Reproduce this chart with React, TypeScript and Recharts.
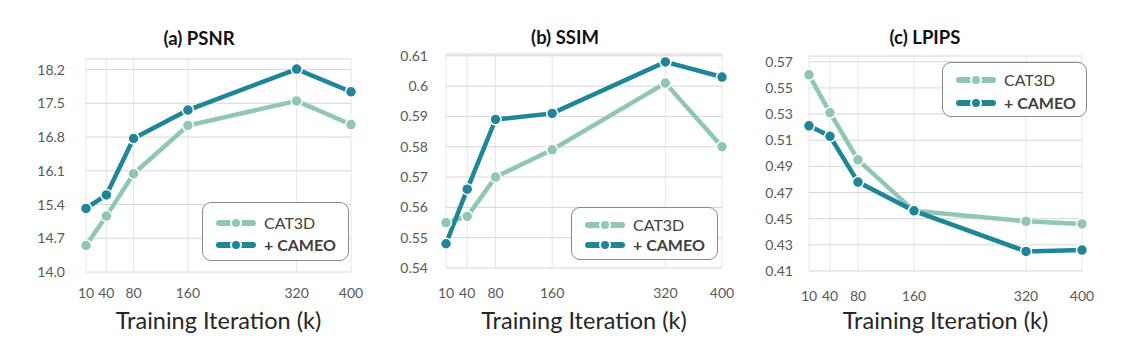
import React from "react";
import { LineChart, Line, XAxis, YAxis, CartesianGrid } from "recharts";

// ---- data ----
const iterations = [10, 40, 80, 160, 320, 400];
const psnrCat3d = [14.55, 15.16, 16.04, 17.04, 17.55, 17.06];
const psnrCameo = [15.32, 15.6, 16.77, 17.36, 18.21, 17.74];
const ssimCat3d = [0.555, 0.557, 0.57, 0.579, 0.601, 0.58];
const ssimCameo = [0.548, 0.566, 0.589, 0.591, 0.608, 0.603];
const lpipsCat3d = [0.56, 0.531, 0.495, 0.456, 0.448, 0.446];
const lpipsCameo = [0.521, 0.513, 0.478, 0.456, 0.425, 0.426];

const psnrTicks = [14.0, 14.7, 15.4, 16.1, 16.8, 17.5, 18.2];
const ssimTicks = [0.54, 0.55, 0.56, 0.57, 0.58, 0.59, 0.6, 0.61];
const lpipsTicks = [0.41, 0.43, 0.45, 0.47, 0.49, 0.51, 0.53, 0.55, 0.57];
const xTicks = [10, 40, 80, 160, 320, 400];

const seriesNames = ["CAT3D", "+ CAMEO"];
const titles = ["(a) PSNR", "(b) SSIM", "(c) LPIPS"];
const xTitle = "Training Iteration (k)";

const LIGHT = "#8fc7b4";
const DARK = "#1f8599";
const FONT = "Lato, 'Open Sans', sans-serif";

function buildRows(a: number[], b: number[]) {
  return iterations.map((it, i) => ({ it, cat3d: a[i], cameo: b[i] }));
}

type PanelProps = {
  title: string;
  rows: { it: number; cat3d: number; cameo: number }[];
  yTicks: number[];
  yDomain: [number, number];
  fmt: (v: number) => string;
  left: number;
  width: number;
  yAxisWidth: number;
  marginRight: number;
  plotTop: number;
  plotBottom: number;
  yTickMargin: number;
  xTickMargin: number;
  titleCx: number;
  titleCy: number;
  legend: { left: number; top: number; width: number; height: number; r1: number; r2: number };
};

const H = 354;

function LegendIcon({ color }: { color: string }) {
  return (
    <svg width={42} height={14} style={{ display: "block" }}>
      <line x1={4} y1={7} x2={38} y2={7} stroke={color} strokeWidth={6} strokeLinecap="round" />
      <circle cx={21} cy={7} r={5} fill={color} stroke="#fff" strokeWidth={2} />
    </svg>
  );
}

function Panel(p: PanelProps) {
  const xAxisHeight = H - 25 - p.plotBottom;
  const lg = p.legend;
  return (
    <>
      <div
        style={{
          position: "absolute",
          left: p.titleCx - 100,
          top: p.titleCy - 12,
          width: 200,
          height: 24,
          lineHeight: "24px",
          textAlign: "center",
          fontFamily: FONT,
          fontWeight: 700,
          fontSize: 18.5,
          color: "#111",
        }}
      >
        {p.title}
      </div>
      <div style={{ position: "absolute", left: p.left, top: 0 }}>
        <LineChart
          width={p.width}
          height={H}
          data={p.rows}
          margin={{ top: p.plotTop, right: p.marginRight, bottom: 25, left: 0 }}
        >
          <CartesianGrid horizontal={false} vertical={true} stroke="#e6e6e6" strokeWidth={1} />
          <CartesianGrid horizontal={true} vertical={false} stroke="#d6d6d6" strokeWidth={1} />
          <XAxis
            dataKey="it"
            type="number"
            domain={[10, 400]}
            ticks={xTicks}
            interval={0}
            axisLine={false}
            tickLine={false}
            tickSize={6}
            tickMargin={p.xTickMargin}
            height={xAxisHeight}
            tick={{ fill: "#595959", fontSize: 14, fontFamily: FONT }}
            label={{
              value: xTitle,
              position: "insideBottom",
              offset: 0,
              fill: "#262626",
              fontSize: 23.5,
              fontFamily: FONT,
            }}
          />
          <YAxis
            type="number"
            domain={p.yDomain}
            ticks={p.yTicks}
            interval={0}
            allowDataOverflow
            width={p.yAxisWidth}
            axisLine={false}
            tickLine={false}
            tickSize={6}
            tickMargin={p.yTickMargin}
            tickFormatter={p.fmt}
            tick={{ fill: "#595959", fontSize: 14, fontFamily: FONT }}
          />
          <Line
            dataKey="cat3d"
            name={seriesNames[0]}
            type="linear"
            stroke={LIGHT}
            strokeWidth={4.5}
            dot={{ r: 5.5, fill: LIGHT, stroke: "#fff", strokeWidth: 1.5 }}
            activeDot={false}
            isAnimationActive={false}
          />
          <Line
            dataKey="cameo"
            name={seriesNames[1]}
            type="linear"
            stroke={DARK}
            strokeWidth={4.5}
            dot={{ r: 5.5, fill: DARK, stroke: "#fff", strokeWidth: 1.5 }}
            activeDot={false}
            isAnimationActive={false}
          />
        </LineChart>
      </div>
      <div
        style={{
          position: "absolute",
          left: lg.left,
          top: lg.top,
          width: lg.width,
          height: lg.height,
          boxSizing: "border-box",
          border: "1px solid #8a8a8a",
          borderRadius: 9,
          background: "#fff",
          fontFamily: FONT,
          color: "#404040",
          fontSize: 16,
        }}
      >
        {[0, 1].map((i) => (
          <div
            key={i}
            style={{
              position: "absolute",
              left: 12,
              top: (i === 0 ? lg.r1 : lg.r2) - 10,
              height: 20,
              display: "flex",
              alignItems: "center",
              whiteSpace: "nowrap",
            }}
          >
            <LegendIcon color={i === 0 ? LIGHT : DARK} />
            <span style={{ marginLeft: 7, fontWeight: i === 0 ? 400 : 700, lineHeight: "20px" }}>
              {seriesNames[i]}
            </span>
          </div>
        ))}
      </div>
    </>
  );
}

export default function App() {
  const fmt1 = (v: number) => v.toFixed(1);
  const fmt2 = (v: number) => String(Math.round(v * 100) / 100);
  return (
    <div style={{ position: "relative", left: -8, top: -8, width: 1142, height: H, background: "#fff" }}>
      <Panel
        title={titles[0]}
        rows={buildRows(psnrCat3d, psnrCameo)}
        yTicks={psnrTicks}
        yDomain={[14, 18.42]}
        fmt={fmt1}
        left={0}
        width={380}
        yAxisWidth={86}
        marginRight={29}
        plotTop={59}
        plotBottom={272}
        yTickMargin={15}
        xTickMargin={10}
        titleCx={199}
        titleCy={38}
        legend={{ left: 202, top: 202, width: 147, height: 59, r1: 20, r2: 42 }}
      />
      <Panel
        title={titles[1]}
        rows={buildRows(ssimCat3d, ssimCameo)}
        yTicks={ssimTicks}
        yDomain={[0.54, 0.6106]}
        fmt={fmt2}
        left={380}
        width={380}
        yAxisWidth={66}
        marginRight={38}
        plotTop={54}
        plotBottom={268}
        yTickMargin={12}
        xTickMargin={14}
        titleCx={565}
        titleCy={37}
        legend={{ left: 571, top: 207, width: 147, height: 53, r1: 17, r2: 37 }}
      />
      <Panel
        title={titles[2]}
        rows={buildRows(lpipsCat3d, lpipsCameo)}
        yTicks={lpipsTicks}
        yDomain={[0.41, 0.5744]}
        fmt={fmt2}
        left={760}
        width={382}
        yAxisWidth={49}
        marginRight={60}
        plotTop={56}
        plotBottom={271}
        yTickMargin={10}
        xTickMargin={14}
        titleCx={925}
        titleCy={37}
        legend={{ left: 942, top: 62, width: 145, height: 55, r1: 17, r2: 40 }}
      />
    </div>
  );
}
